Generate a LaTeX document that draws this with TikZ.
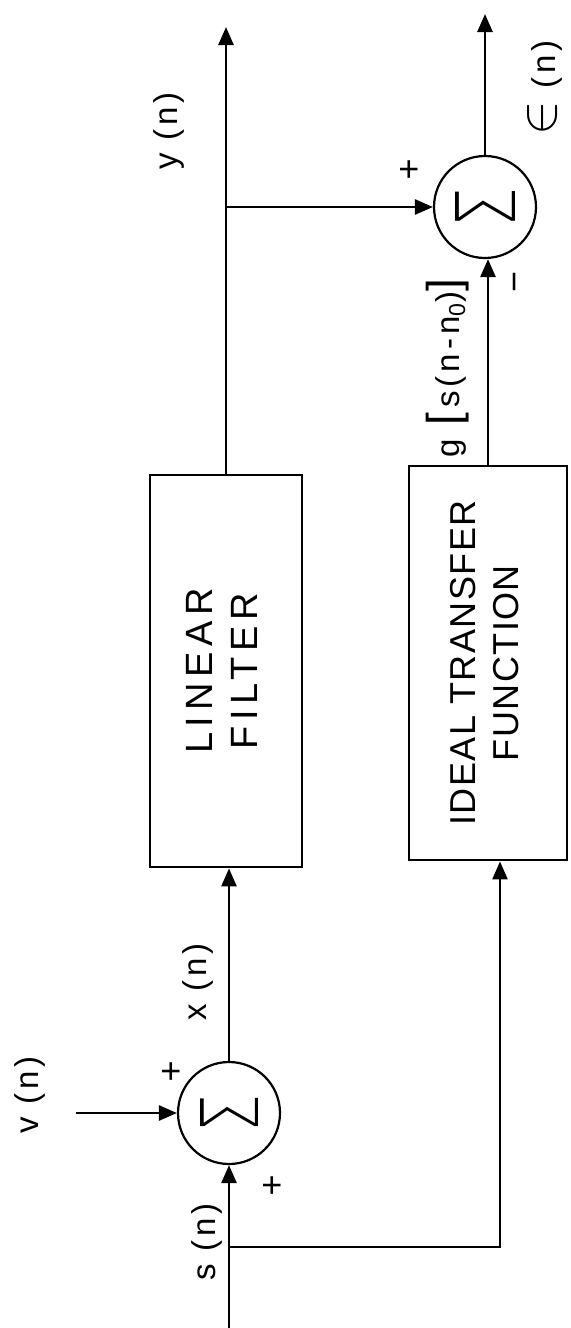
\documentclass[tikz,border=0pt]{standalone}
\usepackage{fontspec}
\setmainfont{Liberation Sans}
\newfontfamily\sigmafont{DejaVuSans-ExtraLight.ttf}
\usetikzlibrary{arrows.meta}

\begin{document}
\begin{tikzpicture}[x=0.5pt, y=-0.5pt,
    sumnode/.style={draw, circle, line width=1.1pt, minimum size=51pt, inner sep=0pt},
    block/.style={draw, line width=1.4pt, inner sep=0pt},
    lbl/.style={rotate=90, font=\fontsize{16.5}{18}\selectfont\addfontfeatures{LetterSpace=12}},
    sgn/.style={font=\fontsize{18}{18}\selectfont},
    flow/.style={line width=1.3pt, -{Triangle[length=9pt, width=7.5pt]}}]
  \useasboundingbox (0,0) rectangle (570,1328);

  % Summing junctions
  \node[sumnode] (sumx) at (229,1113) {\rotatebox{90}{\resizebox{19pt}{29pt}{\sigmafont Σ}}};
  \node[sumnode] (sume) at (485,207) {\rotatebox{90}{\resizebox{20pt}{30pt}{\sigmafont Σ}}};

  % Blocks
  \node[block, minimum width=76pt, minimum height=196pt] (filt) at (226,671)
    {\rotatebox{90}{\fontsize{19}{22.5}\selectfont\addfontfeatures{LetterSpace=15}%
      \begin{tabular}{@{}c@{}}LINEAR\\FILTER\end{tabular}}};
  \node[block, minimum width=79pt, minimum height=197pt] (ideal) at (488,663)
    {\rotatebox{90}{\fontsize{18}{21.5}\selectfont\addfontfeatures{LetterSpace=4}%
      \begin{tabular}{@{}c@{}}IDEAL TRANSFER\\FUNCTION\end{tabular}}};

  % Free ends and branch points
  \coordinate (sin) at (229,1328);
  \coordinate (sbr) at (229,1247);
  \coordinate (vin) at (76,1113);
  \coordinate (yout) at (226,27);
  \coordinate (ybr) at (226,207);
  \coordinate (eout) at (485,14);

  % Signal paths
  \draw[flow] (sin) -- (sumx.south);
  \draw[flow] (vin) -- (sumx.west);
  \draw[flow] (sbr) -| ([xshift=6pt]ideal.south);
  \draw[flow] (sumx.north) -- (sumx.north |- filt.south);
  \draw[flow] (filt.north) -- (yout);
  \draw[flow] (ybr) -- (sume.west);
  \draw[flow] (ideal.north) -- (ideal.north |- sume.south);
  \draw[flow] (sume.north) -- (eout);

  % Signal labels
  \node[lbl] (lv) at (30,1095) {v (n)};
  \node[lbl] (ls) at (207,1242) {s (n)};
  \node[lbl] (lx) at (198,982) {x (n)};
  \node[lbl] (ly) at (169,131) {y (n)};
  \node[lbl] (le) at (545,88) {\scalebox{1.5}{$\in$} (n)};
  \node[lbl] (lg) at (448,368)
    {g {\fontsize{23}{23}\selectfont[}\,s(n-n\textsubscript{0}){\fontsize{23}{23}\selectfont]}};

  % Signs at the junctions
  \foreach \nm/\px/\py in {pv/171/1073, ps/272/1187, py/409/171}
    \node[sgn] (\nm) at (\px,\py) {+};
  \node[sgn, rotate=90] (mg) at (520,282) {−};
\end{tikzpicture}
\end{document}
